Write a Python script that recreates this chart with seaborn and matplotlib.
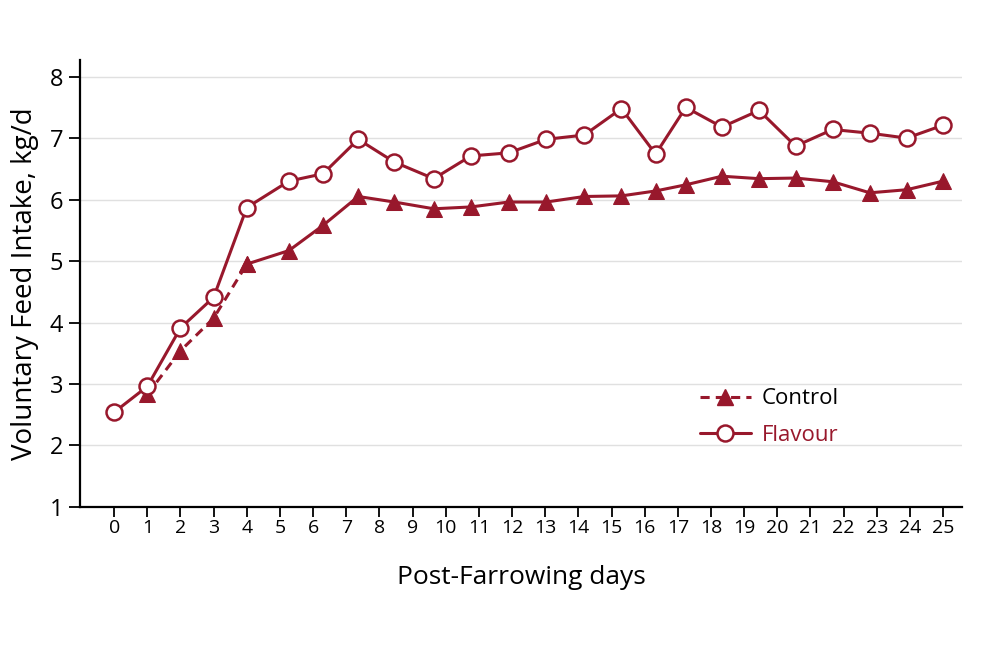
import matplotlib
matplotlib.use("Agg")
import matplotlib.pyplot as plt
import pandas as pd
import seaborn as sns
from matplotlib.lines import Line2D

# sampling points (days post-farrowing)
days = [0, 1, 2, 3, 4, 5.27, 6.3, 7.36, 8.45, 9.64, 10.76, 11.9, 13.03, 14.18,
        15.3, 16.33, 17.24, 18.33, 19.45, 20.55, 21.67, 22.79, 23.9, 25]

flavour = [2.54, 2.96, 3.91, 4.41, 5.87, 6.30, 6.42, 6.98, 6.61, 6.34, 6.71, 6.76,
           6.98, 7.05, 7.48, 6.74, 7.50, 7.18, 7.45, 6.87, 7.14, 7.08, 7.00, 7.21]

control_days = days[1:]
control = [2.83, 3.54, 4.07, 4.95, 5.17, 5.58, 6.05, 5.96, 5.85, 5.88, 5.96, 5.96,
           6.05, 6.06, 6.14, 6.24, 6.38, 6.34, 6.35, 6.29, 6.11, 6.16, 6.30]

tick_days = list(range(0, 26))
y_ticks = [1, 2, 3, 4, 5, 6, 7, 8]

RED = "#98182c"

sns.set_theme(style="white")
plt.rcParams["font.family"] = ["Open Sans", "DejaVu Sans"]
plt.rcParams["text.color"] = "black"
plt.rcParams["axes.labelcolor"] = "black"
plt.rcParams["xtick.color"] = "black"
plt.rcParams["ytick.color"] = "black"

fig = plt.figure(figsize=(10, 6.67), dpi=100)
ax = fig.add_axes([0.08, 0.24, 0.882, 0.67])

ctrl_df = pd.DataFrame({"day": control_days, "intake": control})
flav_df = pd.DataFrame({"day": days, "intake": flavour})

# control: dashed for the first days, solid afterwards
sns.lineplot(data=ctrl_df.iloc[:4], x="day", y="intake", ax=ax, color=RED,
             linestyle=(0, (3, 2)), linewidth=2.2, marker="^", markersize=11.5,
             markeredgecolor=RED, markerfacecolor=RED, sort=False, zorder=3)
sns.lineplot(data=ctrl_df.iloc[3:], x="day", y="intake", ax=ax, color=RED,
             linewidth=2.2, marker="^", markersize=11.5,
             markeredgecolor=RED, markerfacecolor=RED, sort=False, zorder=3)
sns.lineplot(data=flav_df, x="day", y="intake", ax=ax, color=RED,
             linewidth=2.2, marker="o", markersize=11.5, markeredgewidth=1.8,
             markeredgecolor=RED, markerfacecolor="white", sort=False, zorder=4)

ax.set_xlim(-1.03, 25.57)
ax.set_ylim(1, 8.27)
ax.set_xticks(tick_days)
ax.set_xticklabels([str(d) for d in tick_days], fontsize=14)
ax.set_yticks(y_ticks)
ax.set_yticklabels([str(v) for v in y_ticks], fontsize=17)
ax.grid(axis="y", color="#e0e0e0", linewidth=1)
ax.set_axisbelow(True)

ax.tick_params(axis="x", direction="out", length=7, width=1.3, color="black", pad=2, bottom=True)
ax.tick_params(axis="y", direction="out", length=8, width=1.3, color="black", pad=4, left=True)
for side in ["top", "right"]:
    ax.spines[side].set_visible(False)
for side in ["left", "bottom"]:
    ax.spines[side].set_color("black")
    ax.spines[side].set_linewidth(1.6)

ax.set_xlabel("Post-Farrowing days", fontsize=19, labelpad=20)
ax.set_ylabel("Voluntary Feed Intake, kg/d", fontsize=20, labelpad=8)

handles = [
    Line2D([], [], color=RED, linestyle=(0, (3, 2)), linewidth=2.2, marker="^",
           markersize=11.5, markerfacecolor=RED, markeredgecolor=RED),
    Line2D([], [], color=RED, linewidth=2.2, marker="o", markersize=11.5,
           markeredgewidth=1.8, markerfacecolor="white", markeredgecolor=RED),
]
leg = ax.legend(handles, ["Control", "Flavour"], loc="upper left",
                bbox_to_anchor=(0.68, 0.31), frameon=False, fontsize=16,
                handlelength=2.3, handletextpad=0.5, labelspacing=0.7)
leg.get_texts()[0].set_color("black")
leg.get_texts()[1].set_color(RED)

fig.savefig("out.png", dpi=100)
